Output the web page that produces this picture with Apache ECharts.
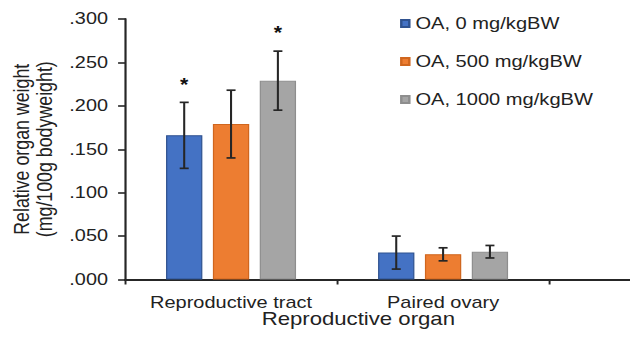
<!DOCTYPE html>
<html>
<head>
<meta charset="utf-8">
<script src="https://cdn.jsdelivr.net/npm/echarts@6/dist/echarts.min.js"></script>
<style>
html,body{margin:0;padding:0;background:#fff;overflow:hidden;}
#wrap{width:630px;height:341px;overflow:hidden;}
#chart{width:517px;height:341px;transform:scaleX(1.2186);transform-origin:0 0;}
</style>
</head>
<body>
<div id="wrap"><div id="chart"></div></div>
<script>
// ---- data ----
var categories = ['Reproductive tract', 'Paired ovary', ''];
var seriesNames = ['OA, 0 mg/kgBW', 'OA, 500 mg/kgBW', 'OA, 1000 mg/kgBW'];
var means0 = [0.166, 0.031];
var err0 = [0.038, 0.019];
var means500 = [0.179, 0.029];
var err500 = [0.039, 0.0075];
var means1000 = [0.229, 0.032];
var err1000 = [0.034, 0.0072];
var stars0 = ['*', ''];
var stars500 = ['', ''];
var stars1000 = ['*', ''];
var yTicks = [0, 0.05, 0.1, 0.15, 0.2, 0.25, 0.3];
var xTitle = 'Reproductive organ';
var yTitle = 'Relative organ weight\n(mg/100g bodyweight)';

// ---- styling ----
var FONT = "'Liberation Sans', Arial, sans-serif";
var TXT = '#222222';
var AX = '#262626';
var colors = ['#4472C4', '#ED7D31', '#A5A5A5'];
var borders = ['#2F528F', '#D0661E', '#8E8E8E'];
var BAR_W = 29.8, BAR_GAP_PCT = 29;
var PITCH = BAR_W * (1 + BAR_GAP_PCT / 100);

var meansAll = [means0, means500, means1000];
var errAll = [err0, err500, err1000];
var starsAll = [stars0, stars500, stars1000];

var chart = echarts.init(document.getElementById('chart'), null, {renderer: 'svg'});

var barSeries = meansAll.map(function (m, g) {
  return {
    name: seriesNames[g],
    type: 'bar',
    data: m.concat(['-']),
    barWidth: BAR_W,
    barGap: BAR_GAP_PCT + '%',
    itemStyle: {color: colors[g], borderColor: borders[g], borderWidth: 1},
    animation: false,
    z: 2
  };
});

var errData = [];
var errStars = [];
meansAll.forEach(function (m, g) {
  m.forEach(function (v, c) {
    errData.push([c, g, v, errAll[g][c]]);
    errStars.push(starsAll[g][c]);
  });
});

var errSeries = {
  type: 'custom',
  name: 'err',
  data: errData,
  silent: true,
  animation: false,
  z: 5,
  encode: {x: 0, y: 2},
  renderItem: function (params, api) {
    var c = api.value(0), g = api.value(1), m = api.value(2), e = api.value(3);
    var cx = api.coord([c, 0])[0] + (g - 1) * PITCH;
    var yt = api.coord([c, m + e])[1];
    var yb = api.coord([c, m - e])[1];
    var hw = 3.7;
    var st = {stroke: AX, lineWidth: 1.7};
    var children = [
      {type: 'line', shape: {x1: cx, y1: yt, x2: cx, y2: yb}, style: st},
      {type: 'line', shape: {x1: cx - hw, y1: yt, x2: cx + hw, y2: yt}, style: st},
      {type: 'line', shape: {x1: cx - hw, y1: yb, x2: cx + hw, y2: yb}, style: st}
    ];
    var s = errStars[params.dataIndex];
    if (s) {
      children.push({type: 'text', x: cx, y: yt - 9, style: {text: s, fill: '#111', font: 'bold 17.5px ' + FONT, textAlign: 'center', textVerticalAlign: 'bottom'}});
    }
    return {type: 'group', children: children};
  }
};

chart.setOption({
  animation: false,
  textStyle: {fontFamily: FONT, color: TXT},
  title: {
    text: xTitle,
    left: 214.7,
    top: 310,
    padding: 0,
    textStyle: {fontFamily: FONT, fontSize: 18.2, fontWeight: 'normal', color: TXT}
  },
  legend: {
    orient: 'vertical',
    left: 323.3,
    top: 10,
    itemGap: 21,
    itemWidth: 6.6,
    itemHeight: 7,
    icon: 'rect',
    data: seriesNames,
    textStyle: {fontFamily: FONT, fontSize: 16.5, color: TXT}
  },
  grid: {left: 102.6, width: 522, top: 19, bottom: 61.5, containLabel: false, outerBoundsMode: 'none'},
  xAxis: {
    type: 'category',
    data: categories,
    axisLine: {lineStyle: {color: AX, width: 1.8}},
    axisTick: {show: true, length: 5, lineStyle: {color: AX, width: 1.6}},
    axisLabel: {margin: 15, fontSize: 16.4, color: TXT, fontFamily: FONT}
  },
  yAxis: {
    type: 'value',
    min: yTicks[0],
    max: yTicks[yTicks.length - 1],
    interval: yTicks[1] - yTicks[0],
    name: yTitle,
    nameLocation: 'middle',
    nameRotate: 90,
    nameGap: 52,
    nameTextStyle: {fontSize: 17.8, lineHeight: 19, color: TXT, fontFamily: FONT},
    axisLine: {show: true, lineStyle: {color: AX, width: 1.8}},
    axisTick: {show: true, length: 5.7, lineStyle: {color: AX, width: 1.6}},
    splitLine: {show: false},
    axisLabel: {
      margin: 14, fontSize: 16.3, color: TXT, fontFamily: FONT,
      formatter: function (v) { return v.toFixed(3).replace(/^0/, ''); }
    }
  },
  series: barSeries.concat([errSeries])
});
</script>
</body>
</html>
